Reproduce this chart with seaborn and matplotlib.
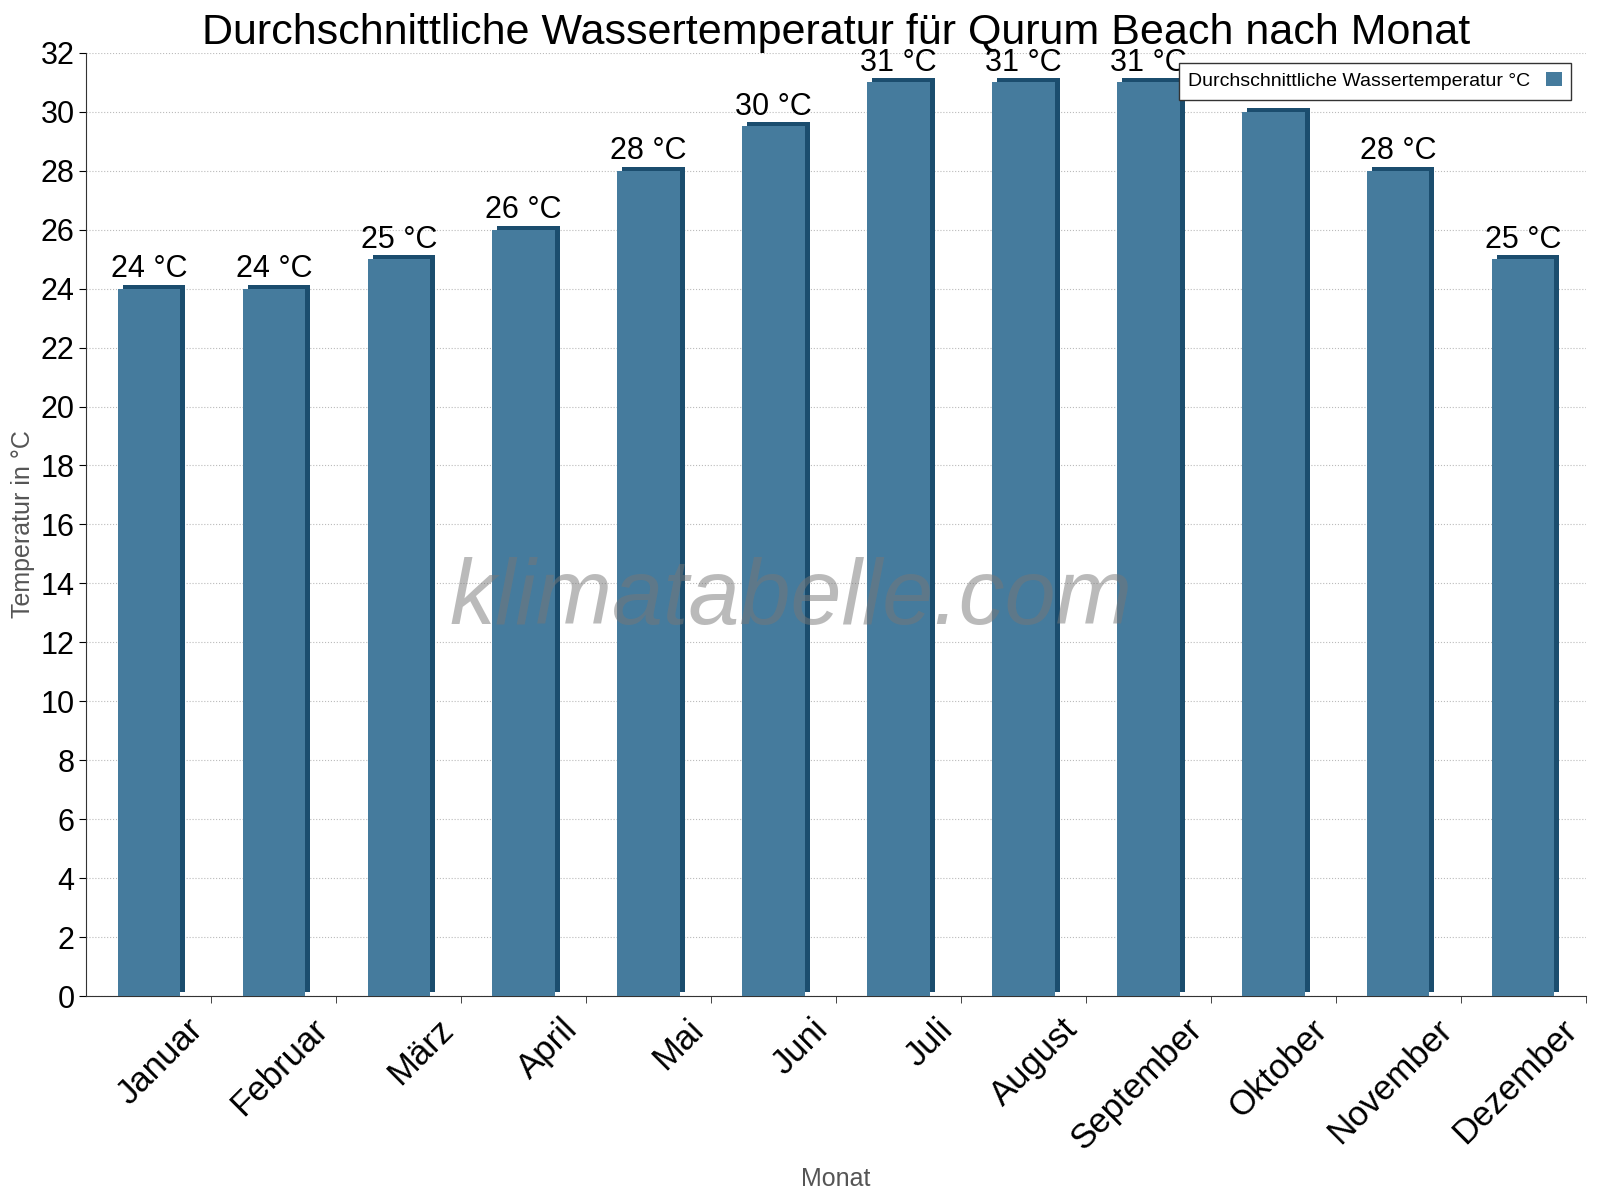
import matplotlib
matplotlib.use("Agg")
import matplotlib.pyplot as plt
import matplotlib.transforms as mtrans
import seaborn as sns
import pandas as pd

months = ["Januar","Februar","März","April","Mai","Juni","Juli","August","September","Oktober","November","Dezember"]
temps = [24, 24, 25, 26, 28, 29.5, 31, 31, 31, 30, 28, 25]
labels = ["24 °C","24 °C","25 °C","26 °C","28 °C","30 °C","31 °C","31 °C","31 °C","30 °C","28 °C","25 °C"]

sns.set_style("white")
plt.rcParams['font.family'] = ['Arial', 'Liberation Sans', 'DejaVu Sans']
plt.rcParams['text.color'] = 'black'
df = pd.DataFrame({"Monat": months, "T": temps})

fig = plt.figure(figsize=(16, 12), dpi=100)
ax = fig.add_axes([0.054, 0.17, 0.937, 0.786])
sns.barplot(data=df, x="Monat", y="T", color="#1b4d6e", saturation=1, width=0.5, ax=ax, zorder=2,
            linewidth=0)
shadow = list(ax.patches)
off = mtrans.offset_copy(ax.transData, fig=fig, x=5, y=4, units='dots')
for p in shadow:
    p.set_transform(off)
sns.barplot(data=df, x="Monat", y="T", color="#457b9d", saturation=1, width=0.5, ax=ax, zorder=3,
            linewidth=0, label="Durchschnittliche Wassertemperatur °C")
for i, (v, l) in enumerate(zip(temps, labels)):
    ax.text(i, v + 0.15, l, ha="center", va="bottom", fontsize=22, color="black", zorder=5)

ax.set_xlim(-0.5, 11.5)
ax.set_ylim(0, 32)
ax.set_yticks(range(0, 33, 2))
ax.tick_params(axis='y', labelsize=22, length=5, left=True, colors="black")
ax.set_xticks([i + 0.3 for i in range(12)])
ax.set_xticklabels(months, rotation=45, ha="right", rotation_mode="anchor", fontsize=25)
ax.set_xticks([i + 0.5 for i in range(12)], minor=True)
ax.tick_params(axis='x', which='major', length=0, pad=12, colors="black")
ax.tick_params(axis='x', which='minor', length=5, bottom=True)
ax.grid(axis='y', linestyle=':', color='#bbbbbb', zorder=0)
ax.set_axisbelow(True)
for s in ["top", "right"]:
    ax.spines[s].set_visible(False)
ax.spines["left"].set_color("#333333")
ax.spines["bottom"].set_color("#333333")
ax.set_xlabel("Monat", fontsize=18, color="#555555", labelpad=8)
ax.set_ylabel("Temperatur in °C", fontsize=18, color="#555555")
ax.set_title("Durchschnittliche Wassertemperatur für Qurum Beach nach Monat", fontsize=31, pad=6, color="black")
ax.text(0.47, 0.42, "klimatabelle.com", transform=ax.transAxes, ha="center", va="center",
        fontsize=66, style="italic", color="#777777", alpha=0.5, zorder=6)
leg = ax.legend(loc="upper right", bbox_to_anchor=(0.997, 1.0), fontsize=14, frameon=True,
                fancybox=False, edgecolor="#333333", markerfirst=False, handlelength=0.8,
                framealpha=1, borderpad=0.5)
leg.set_zorder(10)
fig.savefig("out.png")
